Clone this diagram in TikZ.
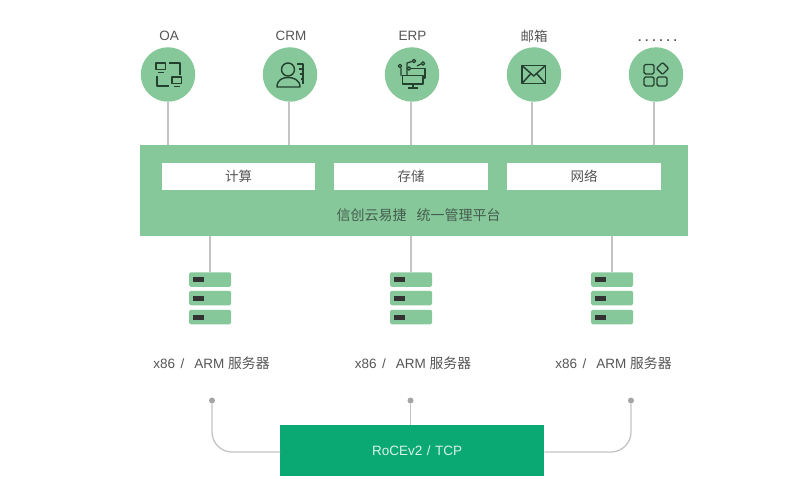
\documentclass[tikz,border=0pt]{standalone}
\usepackage{fontspec}
\setmainfont{Liberation Sans}
\newfontfamily\cjk{Noto Sans CJK SC}
\definecolor{lg}{HTML}{87C89B}
\definecolor{dg}{HTML}{0AA973}
\definecolor{ink}{HTML}{555555}
\definecolor{icn}{HTML}{24402F}
\definecolor{wire}{HTML}{C4C4C4}
\definecolor{dotc}{HTML}{A5A5A5}
\tikzset{
  x=1pt,y=-1pt,
  circ/.style={circle,fill=lg,minimum size=54.5pt,inner sep=0pt},
  lab/.style={text=ink,font=\fontsize{13.5}{13.5}\selectfont,inner sep=0pt,anchor=base},
  wbox/.style={fill=white,minimum width=153.5pt,minimum height=27pt,inner sep=0pt,text=ink,font=\cjk\fontsize{13.5}{13.5}\selectfont},
  wire/.style={draw=wire,line width=1.3pt},
  ic/.style={draw=icn,line width=1.4pt,line join=round,fill=none},
  srv/.style={fill=lg,rounded corners=1.5pt},
  slot/.style={fill=black!80},
  pin/.style={circle,fill=dotc,minimum size=6pt,inner sep=0pt},
}
\begin{document}
\begin{tikzpicture}
\useasboundingbox (0,0) rectangle (800,500);
% platform
\node[fill=lg,minimum width=548pt,minimum height=91.5pt,inner sep=0pt] (plat) at (414,190.5) {};
\node[wbox] (calc) at (238.5,176.5) {\raisebox{-1.5pt}{计算}};
\node[wbox] (stor) at (411,176.5) {\raisebox{-1.5pt}{存储}};
\node[wbox] (net) at (584,176.5) {\raisebox{-1.5pt}{网络}};
\node[text=icn!85,font=\cjk\fontsize{14}{14}\selectfont,inner sep=0pt] (ptitle) at (418.5,215) {信创云易捷\hspace{10pt}统一管理平台};
% app circles
\node[circ] (oa) at (168,74.5) {};
\node[circ] (crm) at (290,74.5) {};
\node[circ] (erp) at (412,74.5) {};
\node[circ] (mail) at (534,74.5) {};
\node[circ] (more) at (656,74.5) {};
\node[lab] (loa) at (169,40.5) {OA};
\node[lab] (lcrm) at (291,40.5) {CRM};
\node[lab] (lerp) at (412.5,40.5) {ERP};
\node[lab,font=\cjk\fontsize{13.5}{13.5}\selectfont] (lmail) at (534,42) {邮箱};
\node[lab,font=\fontsize{12}{12}\selectfont\bfseries] (lmore) at (657.5,41.5) {.\hspace{3.8pt}.\hspace{3.8pt}.\hspace{3.8pt}.\hspace{3.8pt}.\hspace{3.8pt}.};
\draw[wire] (oa.south) -- (oa.south |- plat.north);
\draw[wire] ([xshift=-1pt]crm.south) -- ([xshift=-1pt]crm.south |- plat.north);
\draw[wire] ([xshift=-1pt]erp.south) -- ([xshift=-1pt]erp.south |- plat.north);
\draw[wire] ([xshift=-2pt]mail.south) -- ([xshift=-2pt]mail.south |- plat.north);
\draw[wire] ([xshift=-2pt]more.south) -- ([xshift=-2pt]more.south |- plat.north);
% OA icon
\draw[ic] (156,63) rectangle (165.5,69.5);
\draw[ic] (158,72.5) -- (164,72.5);
\draw[ic] (169,63) -- (180,63) -- (180,75);
\draw[ic] (157,76) -- (157,86) -- (169,86);
\draw[ic] (172,77) rectangle (181.5,83.5);
\draw[ic] (174,86.5) -- (180,86.5);
% CRM icon
\draw[ic] (288,69.5) circle (6.5);
\draw[ic] (277,87) .. controls (277,79.5) and (283,77.5) .. (288,77.5) .. controls (293,77.5) and (300,79.5) .. (300,87) -- cycle;
\draw[ic] (297,64) -- (303,64) -- (303,84);
\draw[ic] (299,69) -- (303,69) (299.5,74) -- (303,74) (301,79) -- (303,79);
% ERP icon
\draw[ic,line width=1.2pt] (401,68) -- (401,76) (407,75) -- (407,63) -- (412,61.5);
\draw[ic,line width=1.2pt] (410,68.5) -- (425,68.5) -- (425,78) -- (423,78);
\draw[ic,line width=1.2pt] (417,66) -- (421,64);
\draw[ic,line width=1.2pt,fill=lg] (402.5,75.5) rectangle (423,84);
\draw[ic,line width=1.2pt] (413,84) -- (413,88) (408,88) -- (418,88);
\draw[ic,line width=1.2pt,fill=lg] (414,61) circle (1.8) (400,66) circle (1.8) (409,68.5) circle (1.8) (423,63.5) circle (1.8);
% mail icon
\draw[ic,line width=1.5pt] (522,65.5) rectangle (545.5,83.5);
\draw[ic,line width=1.5pt] (522,65.5) -- (533.7,76) -- (545.5,65.5) (522,83.5) -- (531,73.5) (545.5,83.5) -- (536.5,73.5);
% more icon
\draw[ic,rounded corners=1.5pt,line width=1.4pt] (644,64.5) rectangle (654,74);
\draw[ic,rounded corners=1.5pt,line width=1.4pt] (644,77) rectangle (654,86);
\draw[ic,rounded corners=1.5pt,line width=1.4pt] (657,77) rectangle (667,86);
\draw[ic,rounded corners=1pt,line width=1.4pt] (662.5,62.5) -- (668.5,68.5) -- (662.5,74.5) -- (656.5,68.5) -- cycle;
% servers
\foreach \n/\xc in {s1/210,s2/411,s3/612}{
  \node[srv,minimum width=42pt,minimum height=14.5pt,inner sep=0pt] (\n a) at (\xc,279.5) {};
  \node[srv,minimum width=42pt,minimum height=14.5pt,inner sep=0pt] (\n b) at (\xc,298) {};
  \node[srv,minimum width=42pt,minimum height=14.5pt,inner sep=0pt] (\n c) at (\xc,317) {};
  \foreach \p in {a,b,c}{
    \fill[slot] ([xshift=4.5pt,yshift=2.5pt]\n\p.west) rectangle ([xshift=15.5pt,yshift=-2.5pt]\n\p.west);
  }
  \draw[wire] (plat.south -| \n a.north) -- (\n a.north);
}
\foreach \n/\xc in {l1/211.5,l2/413,l3/613.5}{
  \node[lab] (\n) at (\xc,368) {x86\hspace{5.5pt}/\hspace{10pt}ARM {\cjk\fontsize{13.8}{13.8}\selectfont 服务器}};
}
% network
\node[fill=dg,minimum width=264pt,minimum height=50.5pt,inner sep=0pt,text=white!85!dg,font=\fontsize{13.5}{13.5}\selectfont] (roce) at (412.2,450.5) {\hspace*{10pt}RoCEv2\hspace{4.5pt}/\hspace{4.5pt}TCP};
\node[pin] (p1) at (212,400.5) {};
\node[pin] (p2) at (410.5,400.5) {};
\node[pin] (p3) at (631,400.5) {};
\draw[wire,rounded corners=20pt] (p1) -- (p1 |- 0,452) -- (roce.west |- 0,452);
\draw[wire] (p2) -- (p2 |- roce.north);
\draw[wire,rounded corners=20pt] (p3) -- (p3 |- 0,452) -- (roce.east |- 0,452);
\end{tikzpicture}
\end{document}
